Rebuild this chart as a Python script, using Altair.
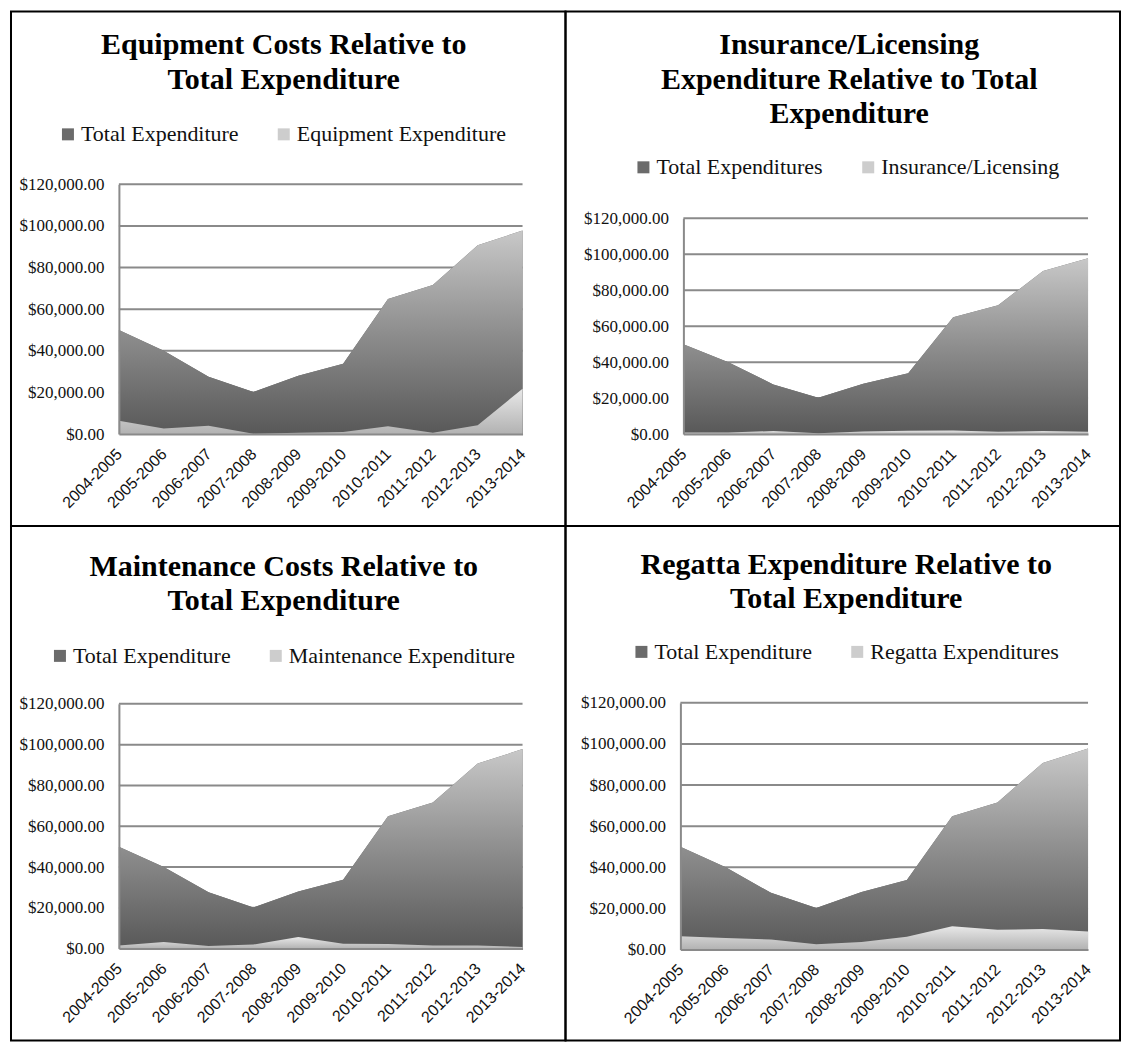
import altair as alt
import pandas as pd

# ---------------- data ----------------
categories = ["2004-2005", "2005-2006", "2006-2007", "2007-2008", "2008-2009",
              "2009-2010", "2010-2011", "2011-2012", "2012-2013", "2013-2014"]
total_exp = [50000, 40000, 27600, 20200, 28000, 33800, 64900, 71600, 90700, 97800]
equipment_exp = [6400, 2700, 4000, 200, 700, 1000, 3800, 700, 4300, 21800]
insurance_exp = [900, 900, 1700, 400, 1500, 1800, 2000, 1300, 1700, 1300]
maintenance_exp = [1500, 3300, 1300, 2000, 5700, 2400, 2300, 1500, 1500, 800]
regatta_exp = [6500, 5700, 4900, 2600, 3700, 6300, 11400, 9700, 10000, 8800]
y_ticks = [0, 20000, 40000, 60000, 80000, 100000, 120000]
grid_values = [20000, 40000, 60000, 80000, 100000, 120000]

titles = [
    ["Equipment Costs Relative to", "Total Expenditure"],
    ["Insurance/Licensing", "Expenditure Relative to Total", "Expenditure"],
    ["Maintenance Costs Relative to", "Total Expenditure"],
    ["Regatta Expenditure Relative to", "Total Expenditure"],
]
legend_names = [
    ("Total Expenditure", "Equipment Expenditure"),
    ("Total Expenditures", "Insurance/Licensing"),
    ("Total Expenditure", "Maintenance Expenditure"),
    ("Total Expenditure", "Regatta Expenditures"),
]
secondary = [equipment_exp, insurance_exp, maintenance_exp, regatta_exp]

# ---------------- layout (page pixels) ----------------
CELL_W, CELL_H = 555, 515
origins = [(10, 10), (565, 10), (10, 525), (565, 525)]
plots = [(118, 522, 183, 433), (683, 1088, 217, 433), (118, 522, 703, 948), (680, 1088, 702, 949)]
title_pos = [(283, 53), (849, 53), (283, 575), (846, 573)]
legend_pos = [(56, 122), (632, 155), (48, 644), (630, 640)]

SERIF = "Liberation Serif"
SANS = "Liberation Sans"
GRID = "#8a8a8a"

total_grad = alt.Gradient(
    gradient="linear", x1=0, x2=0, y1=0, y2=1,
    stops=[alt.GradientStop(color="#c8c8c8", offset=0),
           alt.GradientStop(color="#8e8e8e", offset=0.5),
           alt.GradientStop(color="#585858", offset=1)])
sec_grad = alt.Gradient(
    gradient="linear", x1=0, x2=0, y1=0, y2=1,
    stops=[alt.GradientStop(color="#e8e8e8", offset=0),
           alt.GradientStop(color="#b2b2b2", offset=1)])


def panel(i):
    ox, oy = origins[i]
    x0, x1, yt, yb = plots[i]
    x0 -= ox; x1 -= ox; yt -= oy; yb -= oy
    tx, ty = title_pos[i]
    lx, ly = legend_pos[i]
    tname, sname = legend_names[i]

    df = pd.DataFrame({
        "period": categories * 2,
        "series": [tname] * len(categories) + [sname] * len(categories),
        "value": total_exp + secondary[i],
    })
    gdf = pd.DataFrame({"v": grid_values})

    xs = alt.Scale(type="point", domain=categories, range=[x0, x1], padding=0)
    ys = alt.Scale(domain=[0, 120000], range=[yb, yt], nice=False, zero=True)

    xaxis = alt.Axis(title=None, orient="bottom", offset=yb - CELL_H, labelAngle=-45,
                     labelAlign="right", labelBaseline="middle", labelPadding=17,
                     ticks=False, tickSize=0, domain=True, domainColor=GRID, domainWidth=2,
                     grid=False, labelFont=SANS, labelFontSize=16, labelColor="#111111",
                     labelOverlap=False, zindex=1)
    yaxis = alt.Axis(title=None, orient="left", offset=-x0, values=y_ticks, format="$,.2f",
                     labelFont=SERIF, labelFontSize=17, labelColor="#111111", labelPadding=15,
                     ticks=False, tickSize=0, domain=True, domainColor=GRID, domainWidth=2,
                     grid=False, labelOverlap=False, zindex=1)

    xenc = alt.X("period:O", scale=xs, sort=categories, axis=xaxis)
    yenc = alt.Y("value:Q", scale=ys, stack=None, axis=yaxis)

    grid = alt.Chart(gdf).mark_rule(color=GRID, strokeWidth=2).encode(
        x=alt.XDatum(categories[0], type="ordinal", scale=xs, axis=xaxis),
        x2=alt.X2Datum(categories[-1]),
        y=alt.Y("v:Q", scale=ys, axis=yaxis),
    )

    solid = alt.Chart(df).mark_area(opacity=1).encode(
        x=xenc, y=yenc,
        color=alt.Color("series:N",
                        scale=alt.Scale(domain=[tname, sname], range=["#6b6b6b", "#cdcdcd"]),
                        legend=alt.Legend(title=None, orient="none", legendX=lx - ox, legendY=ly - oy,
                                          direction="horizontal", symbolType="square", symbolSize=144,
                                          symbolStrokeWidth=0, labelFont=SERIF, labelFontSize=22,
                                          labelColor="#111111", columnPadding=34, labelOffset=2,
                                          padding=0, labelLimit=0)),
    )

    tot = alt.Chart(df).transform_filter(alt.datum.series == tname).mark_area(
        color=total_grad, opacity=1).encode(x=xenc, y=yenc)
    sec = alt.Chart(df).transform_filter(alt.datum.series == sname).mark_area(
        color=sec_grad, opacity=1).encode(x=xenc, y=yenc)

    title = alt.Chart(pd.DataFrame({"k": [0]})).mark_text(
        align="center", baseline="alphabetic", font=SERIF, fontSize=30, fontWeight="bold",
        lineHeight=34.5, color="black").encode(
        x=alt.value(tx - ox), y=alt.value(ty - oy), text=alt.value(titles[i]))

    return alt.layer(grid, solid, tot, sec, title).properties(width=CELL_W, height=CELL_H)


chart = alt.concat(panel(0), panel(1), panel(2), panel(3), columns=2, spacing=0,
                   bounds="flush").resolve_scale(
    color="independent", x="independent", y="independent").resolve_legend(
    color="independent").configure_view(
    stroke="black", strokeWidth=2).properties(padding=2, background="white")

chart.save("out.html", embed_options={"renderer": "svg", "actions": False})
